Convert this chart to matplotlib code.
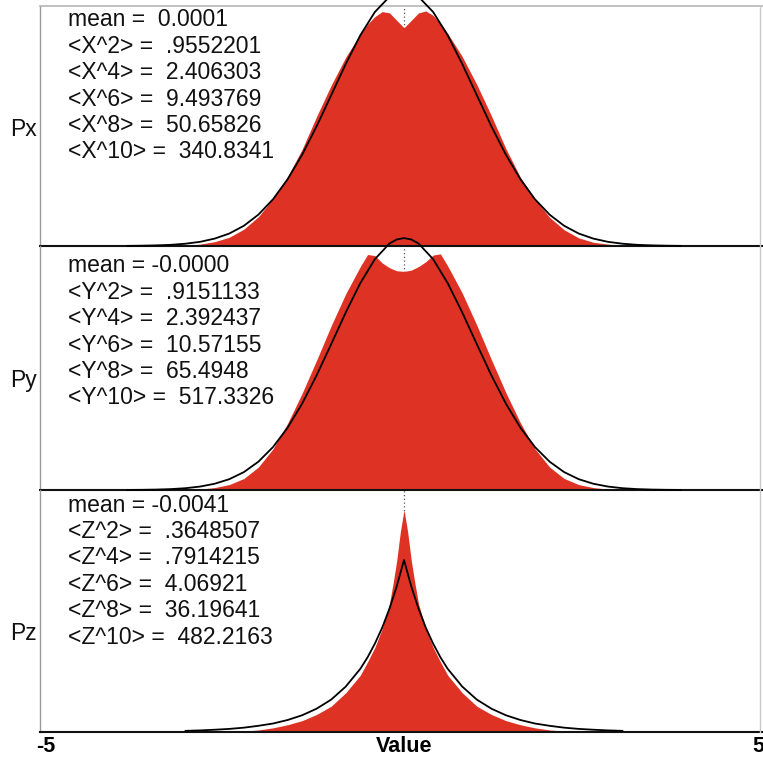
import matplotlib
matplotlib.use("Agg")
import matplotlib.pyplot as plt
from matplotlib.lines import Line2D

plt.rcParams['font.family'] = ['Liberation Sans', 'DejaVu Sans']

# ---------------- data ----------------
panel_labels = ["Px", "Py", "Pz"]
means = [0.0001, -0.0000, -0.0041]

stats_x = ["mean =  0.0001", "<X^2> =  .9552201", "<X^4> =  2.406303",
           "<X^6> =  9.493769", "<X^8> =  50.65826", "<X^10> =  340.8341"]
stats_y = ["mean = -0.0000", "<Y^2> =  .9151133", "<Y^4> =  2.392437",
           "<Y^6> =  10.57155", "<Y^8> =  65.4948", "<Y^10> =  517.3326"]
stats_z = ["mean = -0.0041", "<Z^2> =  .3648507", "<Z^4> =  .7914215",
           "<Z^6> =  4.06921", "<Z^8> =  36.19641", "<Z^10> =  482.2163"]

# red histogram outlines (value, density)
hx_x = [-3.0, -2.8, -2.6, -2.4, -2.2, -2.0, -1.8, -1.6, -1.4, -1.2, -1.0, -0.8, -0.6,
        -0.5, -0.4, -0.3, -0.2, -0.1, 0.0, 0.1, 0.2, 0.3, 0.4, 0.5,
        0.6, 0.8, 1.0, 1.2, 1.4, 1.6, 1.8, 2.0, 2.2, 2.4, 2.6, 2.8, 3.0]
hx_p = [0.001, 0.003, 0.007, 0.014, 0.027, 0.047, 0.076, 0.111, 0.155, 0.208, 0.258, 0.303, 0.340,
        0.356, 0.368, 0.376, 0.374, 0.362, 0.350, 0.362, 0.374, 0.377, 0.370, 0.357,
        0.341, 0.304, 0.259, 0.209, 0.156, 0.110, 0.075, 0.046, 0.026, 0.013, 0.006, 0.003, 0.001]

hy_x = hx_x
hy_p = [0.0005, 0.0015, 0.004, 0.009, 0.019, 0.038, 0.068, 0.110, 0.160, 0.215, 0.272, 0.325, 0.370,
        0.390, 0.388, 0.376, 0.368, 0.363, 0.362, 0.364, 0.370, 0.378, 0.389, 0.391,
        0.371, 0.326, 0.273, 0.216, 0.161, 0.111, 0.068, 0.038, 0.019, 0.009, 0.004, 0.0015, 0.0005]

hz_x = [-2.4, -2.2, -2.0, -1.8, -1.6, -1.4, -1.2, -1.0, -0.8, -0.6, -0.5, -0.4, -0.3, -0.2,
        -0.15, -0.1, -0.05, 0.0, 0.05, 0.1, 0.15, 0.2, 0.3, 0.4, 0.5, 0.6,
        0.8, 1.0, 1.2, 1.4, 1.6, 1.8, 2.0, 2.2, 2.4]
hz_p = [0.001, 0.004, 0.010, 0.020, 0.035, 0.055, 0.085, 0.125, 0.190, 0.275, 0.340, 0.410, 0.500, 0.620,
        0.720, 0.830, 0.970, 1.075, 0.970, 0.830, 0.720, 0.620, 0.500, 0.410, 0.340, 0.275,
        0.190, 0.125, 0.085, 0.055, 0.035, 0.020, 0.010, 0.004, 0.001]

# black fitted curves
fx_x = [-3.8, -3.6, -3.4, -3.2, -3.0, -2.8, -2.6, -2.4, -2.2, -2.0, -1.8, -1.6, -1.4, -1.2, -1.0,
        -0.8, -0.6, -0.4, -0.2, -0.1, 0.0, 0.1, 0.2, 0.4, 0.6, 0.8, 1.0, 1.2, 1.4, 1.6, 1.8,
        2.0, 2.2, 2.4, 2.6, 2.8, 3.0, 3.2, 3.4, 3.6, 3.8]
fx_p = [0.0002, 0.0005, 0.0010, 0.0019, 0.0037, 0.0067, 0.0119, 0.0200, 0.0324, 0.0503, 0.0749,
        0.1069, 0.1463, 0.1921, 0.2419, 0.2920, 0.3381, 0.3754, 0.3998, 0.4061, 0.4082, 0.4061,
        0.3998, 0.3754, 0.3381, 0.2920, 0.2419, 0.1921, 0.1463, 0.1069, 0.0749, 0.0503, 0.0324,
        0.0200, 0.0119, 0.0067, 0.0037, 0.0019, 0.0010, 0.0005, 0.0002]

fy_x = fx_x
fy_p = [0.0001, 0.0003, 0.0007, 0.0015, 0.0030, 0.0057, 0.0104, 0.0179, 0.0296, 0.0469, 0.0710,
        0.1030, 0.1429, 0.1899, 0.2415, 0.2940, 0.3426, 0.3822, 0.4081, 0.4148, 0.4171, 0.4148,
        0.4081, 0.3822, 0.3426, 0.2940, 0.2415, 0.1899, 0.1429, 0.1030, 0.0710, 0.0469, 0.0296,
        0.0179, 0.0104, 0.0057, 0.0030, 0.0015, 0.0007, 0.0003, 0.0001]

fz_x = [-3.0, -2.8, -2.6, -2.4, -2.2, -2.0, -1.8, -1.6, -1.4, -1.2, -1.0, -0.8, -0.6, -0.5,
        -0.4, -0.3, -0.2, -0.1, 0.0, 0.1, 0.2, 0.3, 0.4, 0.5, 0.6, 0.8, 1.0, 1.2, 1.4, 1.6,
        1.8, 2.0, 2.2, 2.4, 2.6, 2.8, 3.0]
fz_p = [0.0056, 0.0078, 0.011, 0.015, 0.021, 0.030, 0.041, 0.058, 0.081, 0.113, 0.157, 0.220,
        0.306, 0.362, 0.428, 0.505, 0.597, 0.705, 0.833, 0.705, 0.597, 0.505, 0.428, 0.362,
        0.306, 0.220, 0.157, 0.113, 0.081, 0.058, 0.041, 0.030, 0.021, 0.015, 0.011, 0.0078, 0.0056]

# ---------------- layout ----------------
W, H = 763, 759
fig = plt.figure(figsize=(W / 100, H / 100), dpi=100)
fig.patch.set_facecolor("white")

RED = "#DE3324"
left_px, right_px = 40, 768
panels_px = [(6, 246), (246, 490), (490, 732)]
ytops = [0.385, 0.404, 1.172]
text_first = [20, 266, 505]
label_y = [130, 381, 633]
line_gap = 26.4

hists = [(hx_x, hx_p), (hy_x, hy_p), (hz_x, hz_p)]
fits = [(fx_x, fx_p), (fy_x, fy_p), (fz_x, fz_p)]
stats = [stats_x, stats_y, stats_z]

for i, (top, bot) in enumerate(panels_px):
    ax = fig.add_axes([left_px / W, 1 - bot / H, (right_px - left_px) / W, (bot - top) / H])
    ax.set_facecolor("none")
    ax.set_xlim(-5, 5)
    ax.set_ylim(0, ytops[i])
    ax.set_xticks([])
    ax.set_yticks([])
    for s in ["top", "right", "left", "bottom"]:
        ax.spines[s].set_visible(False)
    ax.spines["left"].set_visible(True)
    ax.spines["left"].set_color("#9a9a9a")
    ax.spines["left"].set_linewidth(1.0)
    ax.spines["bottom"].set_visible(True)
    ax.spines["bottom"].set_color("#111111")
    ax.spines["bottom"].set_linewidth(1.5)
    if i == 0:
        ax.spines["top"].set_visible(True)
        ax.spines["top"].set_color("#b5b5b5")
        ax.spines["top"].set_linewidth(1.2)

    ax.axvline(means[i], color="#555555", ls=(0, (1, 2)), lw=0.9, zorder=1)
    hx, hp = hists[i]
    ax.fill_between(hx, 0, hp, color=RED, lw=0, zorder=2)
    fxv, fpv = fits[i]
    ax.plot(fxv, fpv, color="black", lw=1.3, zorder=3, clip_on=False)

    for k, line in enumerate(stats[i]):
        fig.text(68 / W, 1 - (text_first[i] + k * line_gap) / H, line,
                 fontsize=16.5, ha="left", va="center", color="#111111")
    fig.text(10 / W, 1 - label_y[i] / H, panel_labels[i], fontsize=16.5,
             ha="left", va="center", color="#111111")

# right border line
fig.add_artist(Line2D([760 / W, 760 / W], [1 - 6 / H, 1 - 732 / H],
                      transform=fig.transFigure, color="#c8c8c8", lw=1.0))

fig.text(36 / W, 1 - 746 / H, "-5", fontsize=15.5, fontweight="bold", ha="left", va="center")
fig.text(404 / W, 1 - 746 / H, "Value", fontsize=15.5, fontweight="bold", ha="center", va="center")
fig.text(752 / W, 1 - 746 / H, "5", fontsize=15.5, fontweight="bold", ha="left", va="center")

fig.savefig("out.png", dpi=100, facecolor="white")
